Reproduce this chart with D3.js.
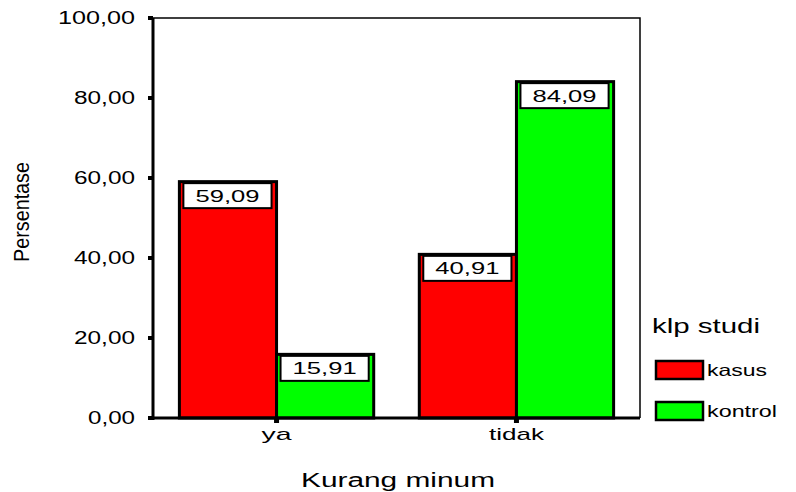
<!DOCTYPE html>
<html>
<head>
<meta charset="utf-8">
<script src="https://cdn.jsdelivr.net/npm/d3@7"></script>
<style>
  html, body { margin: 0; padding: 0; background: #fff; }
  svg { display: block; font-family: Arial, "Liberation Sans", sans-serif; }
</style>
</head>
<body>
<svg id="chart" width="796" height="492"></svg>
<script>
// Categories on the x axis and the two study groups
const categories = ["ya", "tidak"];
const seriesNames = ["kasus", "kontrol"];
const kasusValues = [59.09, 40.91];
const kontrolValues = [15.91, 84.09];
const yTicks = [0, 20, 40, 60, 80, 100];
const seriesColors = ["#ff0000", "#00ff00"];

const svg = d3.select("#chart");
const plotLeft = 153, plotRight = 640, plotTop = 18, plotBottom = 418;

const locale = d3.formatLocale({ decimal: ",", thousands: ".", grouping: [3], currency: ["", ""] });
const fmt = locale.format(".2f");

const y = d3.scaleLinear().domain([0, 100]).range([plotBottom, plotTop]);
const x0 = d3.scaleBand().domain(categories).range([plotLeft, plotRight])
  .paddingInner(0.19).paddingOuter(0.11);
const x1 = d3.scaleBand().domain(seriesNames).range([0, x0.bandwidth()]);
const color = d3.scaleOrdinal().domain(seriesNames).range(seriesColors);

const rows = categories.map((c, i) => ({
  cat: c,
  vals: [
    { key: "kasus", value: kasusValues[i] },
    { key: "kontrol", value: kontrolValues[i] }
  ]
}));

// Stretched text helper: fixes the drawn width of a label
function stretch(sel, size, len, adjust) {
  sel.attr("font-size", size)
    .attr("textLength", len)
    .attr("lengthAdjust", adjust || "spacingAndGlyphs");
  return sel;
}

// Frame: thin top and right edges
svg.append("path")
  .attr("d", `M${plotLeft},${plotTop}H${plotRight}V${plotBottom}`)
  .attr("fill", "none").attr("stroke", "#000").attr("stroke-width", 1.5);

// Bars
const groups = svg.selectAll("g.cat").data(rows).join("g")
  .attr("class", "cat")
  .attr("transform", d => `translate(${x0(d.cat)},0)`);

groups.selectAll("rect.bar").data(d => d.vals).join("rect")
  .attr("class", "bar")
  .attr("x", d => x1(d.key))
  .attr("y", d => y(d.value))
  .attr("width", x1.bandwidth())
  .attr("height", d => y(0) - y(d.value))
  .attr("fill", d => color(d.key))
  .attr("stroke", "#000")
  .attr("stroke-width", 3);

// Value labels in white boxes at the top of each bar
const lab = groups.selectAll("g.lab").data(d => d.vals).join("g").attr("class", "lab");
lab.append("rect")
  .attr("x", d => x1(d.key) + 4)
  .attr("y", d => y(d.value) + 1.5)
  .attr("width", x1.bandwidth() - 9)
  .attr("height", 25)
  .attr("fill", "#fff")
  .attr("stroke", "#000")
  .attr("stroke-width", 2);
lab.append("text")
  .attr("x", d => x1(d.key) + x1.bandwidth() / 2 - 0.5)
  .attr("y", d => y(d.value) + 20)
  .attr("text-anchor", "middle")
  .attr("fill", "#000")
  .text(d => fmt(d.value))
  .call(stretch, 16.5, 64);

// Y axis line, ticks and labels
svg.append("line")
  .attr("x1", plotLeft).attr("x2", plotLeft).attr("y1", plotTop).attr("y2", plotBottom + 2)
  .attr("stroke", "#000").attr("stroke-width", 3);
svg.selectAll("rect.ytick").data(yTicks).join("rect")
  .attr("class", "ytick")
  .attr("x", plotLeft - 5).attr("y", d => y(d) - 2)
  .attr("width", 5).attr("height", 4).attr("fill", "#000");
svg.selectAll("text.ylab").data(yTicks).join("text")
  .attr("class", "ylab")
  .attr("x", 135).attr("y", d => y(d) + 6)
  .attr("text-anchor", "end")
  .text(d => fmt(d))
  .call(stretch, 17.5, d => d >= 100 ? 77 : (d > 0 ? 61 : 47));

// X axis line, ticks and labels
svg.append("line")
  .attr("x1", plotLeft - 4).attr("x2", plotRight).attr("y1", plotBottom).attr("y2", plotBottom)
  .attr("stroke", "#000").attr("stroke-width", 3);
svg.selectAll("rect.xtick").data(categories).join("rect")
  .attr("class", "xtick")
  .attr("x", d => x0(d) + x0.bandwidth() / 2 - 2.5).attr("y", plotBottom)
  .attr("width", 5).attr("height", 5).attr("fill", "#000");
svg.selectAll("text.xlab").data(categories).join("text")
  .attr("class", "xlab")
  .attr("x", d => x0(d) + x0.bandwidth() / 2)
  .attr("y", 440)
  .attr("text-anchor", "middle")
  .text(d => d)
  .each(function (d) {
    stretch(d3.select(this), 17, d === "ya" ? 30 : 55);
  });

// Axis titles
svg.append("text")
  .attr("x", 398).attr("y", 487)
  .attr("text-anchor", "middle")
  .text("Kurang minum")
  .call(stretch, 19.5, 194);
svg.append("text")
  .attr("transform", "translate(29,212) rotate(-90)")
  .attr("text-anchor", "middle")
  .text("Persentase")
  .call(stretch, 22, 100);

// Legend
svg.append("text")
  .attr("x", 652).attr("y", 333)
  .text("klp studi")
  .call(stretch, 19.5, 108);
const leg = svg.selectAll("g.leg").data(seriesNames).join("g")
  .attr("class", "leg")
  .attr("transform", (d, i) => `translate(656,${361 + i * 41})`);
leg.append("rect")
  .attr("width", 47).attr("height", 18)
  .attr("fill", d => color(d))
  .attr("stroke", "#000").attr("stroke-width", 2.5);
leg.append("text")
  .attr("x", 51).attr("y", 15)
  .text(d => d)
  .call(stretch, 16.5, d => d === "kasus" ? 60 : 70);
</script>
</body>
</html>
